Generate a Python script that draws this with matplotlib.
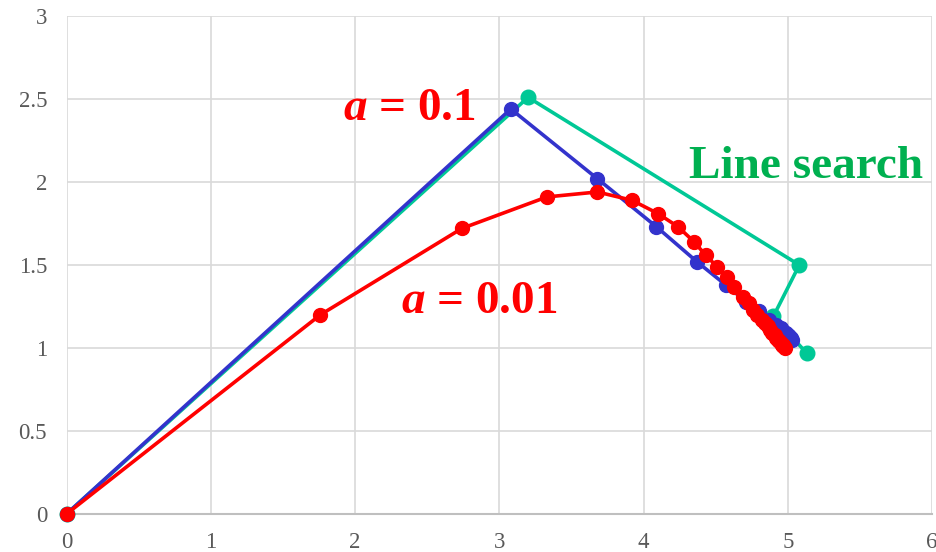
import matplotlib
matplotlib.use("Agg")
import matplotlib.pyplot as plt

# Line search path
ls_x = [0.0, 3.20, 5.08, 4.90, 5.13]
ls_y = [0.0, 2.51, 1.50, 1.19, 0.97]

# a = 0.1 path
b_x = [0.0, 3.08, 3.68, 4.09, 4.37, 4.57, 4.71, 4.80, 4.87, 4.92, 4.95, 4.97, 4.99, 5.00, 5.01, 5.02, 5.03]
b_y = [0.0, 2.44, 2.02, 1.73, 1.52, 1.38, 1.28, 1.22, 1.17, 1.14, 1.12, 1.10, 1.09, 1.08, 1.07, 1.06, 1.05]

# a = 0.01 path
r_x = [0.0, 1.76, 2.74, 3.33, 3.68, 3.92, 4.10, 4.24, 4.35, 4.43, 4.51, 4.58, 4.63, 4.69,
       4.73, 4.76, 4.79, 4.82, 4.84, 4.86, 4.88, 4.89, 4.91, 4.92, 4.93, 4.94, 4.95, 4.96, 4.97, 4.97, 4.98]
r_y = [0.0, 1.20, 1.72, 1.91, 1.94, 1.89, 1.81, 1.73, 1.64, 1.56, 1.49, 1.43, 1.37, 1.31,
       1.27, 1.23, 1.20, 1.17, 1.15, 1.13, 1.11, 1.09, 1.08, 1.06, 1.05, 1.04, 1.03, 1.02, 1.02, 1.01, 1.00]

x_ticks = [0, 1, 2, 3, 4, 5, 6]
y_ticks = [0, 0.5, 1, 1.5, 2, 2.5, 3]
y_tick_labels = ["0", "0.5", "1", "1.5", "2", "2.5", "3"]

plt.rcParams['mathtext.fontset'] = 'custom'
plt.rcParams['mathtext.it'] = 'Liberation Serif:italic:bold'
plt.rcParams['mathtext.rm'] = 'Liberation Serif:bold'

fig = plt.figure(figsize=(9.36, 5.52), dpi=100)
ax = fig.add_axes([66.5/936, 38/552, (932-66.5)/936, (514-16)/552])

ax.set_xlim(0, 6)
ax.set_ylim(0, 3)
ax.set_xticks(x_ticks)
ax.set_yticks(y_ticks)
ax.set_yticklabels(y_tick_labels)
ax.grid(True, color='#D9D9D9', linewidth=1.2)
ax.set_axisbelow(True)
for s in ['left', 'top', 'right']:
    ax.spines[s].set_visible(False)
ax.spines['bottom'].set_color('#BFBFBF')
ax.spines['bottom'].set_linewidth(1.5)
ax.tick_params(length=0, labelsize=16.5, labelcolor='#595959')
ax.tick_params(axis='x', pad=13)
ax.tick_params(axis='y', pad=14)
for lab in ax.get_xticklabels() + ax.get_yticklabels():
    lab.set_fontfamily('Liberation Serif')

ax.plot(ls_x, ls_y, color='#00C896', linewidth=2.6, marker='o', markersize=10.5, clip_on=False, zorder=3)
ax.plot(b_x, b_y, color='#3333CC', linewidth=2.6, marker='o', markersize=10, clip_on=False, zorder=4)
ax.plot(r_x, r_y, color='#FF0000', linewidth=2.6, marker='o', markersize=10, clip_on=False, zorder=5)

ax.text(2.38, 2.44, r"$a$ = 0.1", color='#FF0000', fontsize=34, fontweight='bold',
        family='Liberation Serif', ha='center', va='center')
ax.text(2.86, 1.28, r"$a$ = 0.01", color='#FF0000', fontsize=34, fontweight='bold',
        family='Liberation Serif', ha='center', va='center')
ax.text(5.13, 2.09, "Line search", color='#00B050', fontsize=34, fontweight='bold',
        family='Liberation Serif', ha='center', va='center')

fig.savefig("out.png", dpi=100)
